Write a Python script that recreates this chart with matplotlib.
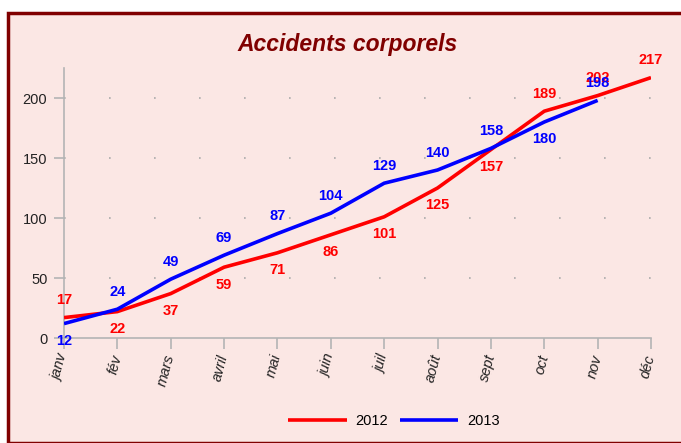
import matplotlib
matplotlib.use('Agg')
from matplotlib import patches
from matplotlib import pyplot as plt

MONTHS = ['janv', 'fév', 'mars', 'avril', 'mai', 'juin',
          'juil', 'août', 'sept', 'oct', 'nov', 'déc']
VALUES_2012 = [17, 22, 37, 59, 71, 86, 101, 125, 157, 189, 202, 217]
VALUES_2013 = [12, 24, 49, 69, 87, 104, 129, 140, 158, 180, 198]
Y_TICKS = [0, 50, 100, 150, 200]

BG = '#fbe7e4'
TITLE_COLOR = '#800000'
AXIS_GRAY = '#b4b4b4'

plt.rcParams['font.family'] = ['Liberation Sans', 'DejaVu Sans']

fig = plt.figure(figsize=(6.81, 4.43), dpi=100)
fig.patch.set_facecolor('white')
fig.patches.append(patches.Rectangle(
    (8 / 681, 0.0), 1 - 8 / 681 + 0.01, 1 - 13 / 443,
    transform=fig.transFigure, facecolor=BG, edgecolor=TITLE_COLOR,
    linewidth=2.5, zorder=-1))

ax = fig.add_axes([64 / 681, 1 - 338 / 443, (651 - 64) / 681, 270 / 443])
ax.set_facecolor('none')

x12 = list(range(len(VALUES_2012)))
x13 = list(range(len(VALUES_2013)))
ax.plot(x12, VALUES_2012, color='#ff0000', lw=2.6, label='2012',
        solid_capstyle='butt', zorder=3)
ax.plot(x13, VALUES_2013, color='#0000ff', lw=2.6, label='2013',
        solid_capstyle='butt', zorder=3)


def label_side(values, others, i):
    if i >= len(others):
        return 1
    return 1 if values[i] >= others[i] else -1


for i, v in enumerate(VALUES_2012):
    side = label_side(VALUES_2012, VALUES_2013, i)
    ax.annotate(str(v), (i, v), xytext=(0, 12.5 * side),
                textcoords='offset points', ha='center', va='center',
                color='#ff0000', fontsize=10.5, fontweight='bold', zorder=4)
for i, v in enumerate(VALUES_2013):
    side = label_side(VALUES_2013, VALUES_2012, i)
    if MONTHS[i] == 'nov':
        side = 1
    ax.annotate(str(v), (i, v), xytext=(0, 12.5 * side),
                textcoords='offset points', ha='center', va='center',
                color='#0000ff', fontsize=10.5, fontweight='bold', zorder=4)

ax.set_xlim(0, len(MONTHS) - 1)
ax.set_ylim(0, 225)
ax.set_yticks(Y_TICKS)
ax.set_xticks(range(len(MONTHS)))
ax.set_xticklabels(MONTHS, rotation=75, rotation_mode='anchor',
                   ha='right', va='center', fontstyle='italic')
ax.tick_params(axis='x', length=8, color=AXIS_GRAY, width=1.2,
               labelsize=10.5, pad=4)
ax.tick_params(axis='y', length=7, color=AXIS_GRAY, width=1.2,
               labelsize=10.5, pad=5)
for lbl in ax.get_xticklabels() + ax.get_yticklabels():
    lbl.set_color('#222222')

for side in ('top', 'right'):
    ax.spines[side].set_visible(False)
for side in ('left', 'bottom'):
    ax.spines[side].set_color(AXIS_GRAY)
    ax.spines[side].set_linewidth(1.2)

for y in Y_TICKS[1:]:
    ax.axhline(y, color='#aaaaaa', lw=1.2, linestyle=(0, (1, 26)), zorder=1)

fig.text(348 / 681, 1 - 45 / 443, 'Accidents corporels', ha='center',
         va='center', fontsize=16.5, fontweight='bold', fontstyle='italic',
         color=TITLE_COLOR)

fig.legend(loc='center', bbox_to_anchor=(394 / 681, 1 - 421 / 443),
           ncol=2, frameon=False, fontsize=10.5, handlelength=4.0,
           columnspacing=0.8, handletextpad=0.6)

fig.savefig('out.png', dpi=100, facecolor=fig.get_facecolor())
